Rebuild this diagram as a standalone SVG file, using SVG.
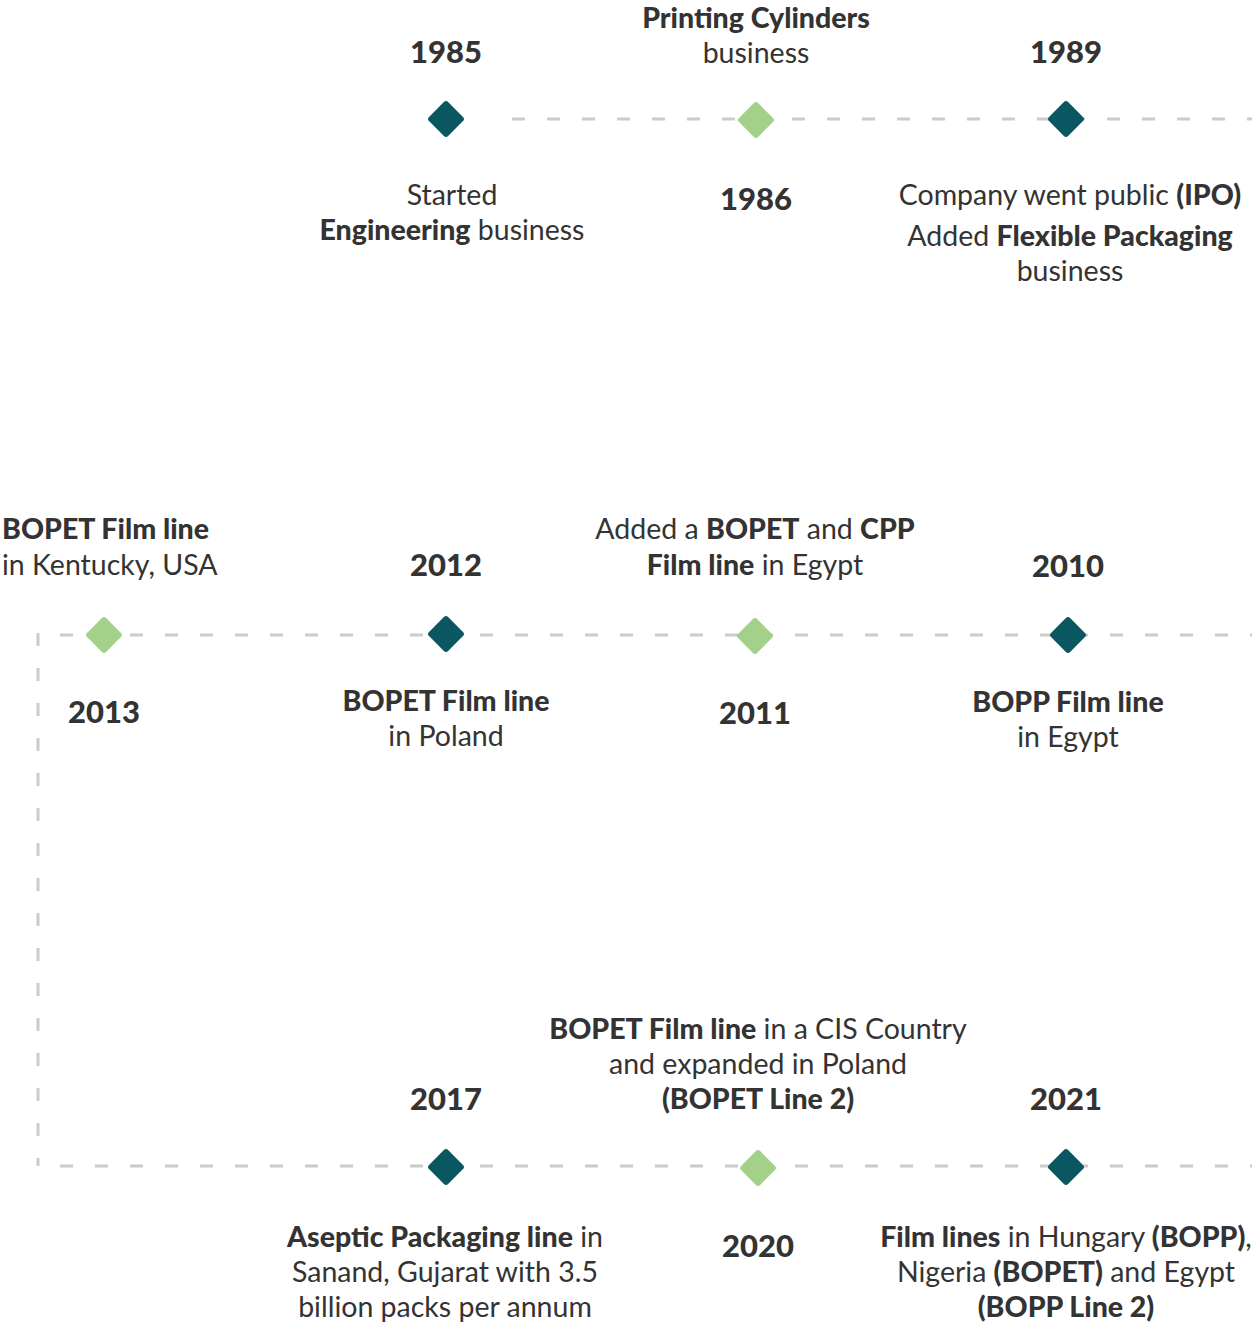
<svg xmlns="http://www.w3.org/2000/svg" width="1252" height="1322" viewBox="0 0 1252 1322">
<style>
text{font-family:Lato,"Noto Sans",sans-serif;fill:#333;font-size:28.5px;text-anchor:middle}
.y{font-weight:900;font-size:31px}
.b{font-weight:900}
.l{text-anchor:start}
.c{fill:none;stroke:#cbcbcb;stroke-width:3;stroke-dasharray:13 22}
.d{fill:#0a5761}
.g{fill:#a3d18a}
</style>
<defs>
<rect id="dm" x="-13.5" y="-13.5" width="27" height="27" rx="3" transform="rotate(45)"/>
</defs>
<rect width="1252" height="1322" fill="#fff"/>
<g id="connectors">
<path class="c" d="M512 119H1252"/>
<path class="c" d="M60 635H1252"/>
<path class="c" d="M38 633V1166"/>
<path class="c" d="M60 1166H1252"/>
</g>
<g id="n1985"><use href="#dm" class="d" x="446" y="119"/><text class="y" x="446" y="63">1985</text><text x="452" y="205">Started</text><text x="452" y="240"><tspan class="b">Engineering</tspan> business</text></g>
<g id="n1986"><use href="#dm" class="g" x="756" y="120"/><text class="b" x="756" y="28">Printing Cylinders</text><text x="756" y="63">business</text><text class="y" x="756" y="210">1986</text></g>
<g id="n1989"><use href="#dm" class="d" x="1066" y="119"/><text class="y" x="1066" y="63">1989</text><text x="1070" y="205">Company went public <tspan class="b">(IPO)</tspan></text><text x="1070" y="246">Added <tspan class="b">Flexible Packaging</tspan></text><text x="1070" y="281">business</text></g>
<g id="n2013"><use href="#dm" class="g" x="104" y="635"/><text class="l b" x="2" y="539">BOPET Film line</text><text class="l" x="2" y="575">in Kentucky, USA</text><text class="y" x="104" y="723">2013</text></g>
<g id="n2012"><use href="#dm" class="d" x="446" y="634"/><text class="y" x="446" y="576">2012</text><text class="b" x="446" y="711">BOPET Film line</text><text x="446" y="746">in Poland</text></g>
<g id="n2011"><use href="#dm" class="g" x="755" y="636"/><text x="755" y="539">Added a <tspan class="b">BOPET</tspan> and <tspan class="b">CPP</tspan></text><text x="755" y="575"><tspan class="b">Film line</tspan> in Egypt</text><text class="y" x="755" y="724">2011</text></g>
<g id="n2010"><use href="#dm" class="d" x="1068" y="635"/><text class="y" x="1068" y="577">2010</text><text class="b" x="1068" y="712">BOPP Film line</text><text x="1068" y="747">in Egypt</text></g>
<g id="n2017"><use href="#dm" class="d" x="446" y="1167"/><text class="y" x="446" y="1110">2017</text><text x="445" y="1247"><tspan class="b">Aseptic Packaging line</tspan> in</text><text x="445" y="1282">Sanand, Gujarat with 3.5</text><text x="445" y="1317">billion packs per annum</text></g>
<g id="n2020"><use href="#dm" class="g" x="758" y="1168"/><text x="758" y="1039"><tspan class="b">BOPET Film line</tspan> in a CIS Country</text><text x="758" y="1074">and expanded in Poland</text><text class="b" x="758" y="1109">(BOPET Line 2)</text><text class="y" x="758" y="1257">2020</text></g>
<g id="n2021"><use href="#dm" class="d" x="1066" y="1167"/><text class="y" x="1066" y="1110">2021</text><text x="1066" y="1247"><tspan class="b">Film lines</tspan> in Hungary <tspan class="b">(BOPP)</tspan>,</text><text x="1066" y="1282">Nigeria <tspan class="b">(BOPET)</tspan> and Egypt</text><text class="b" x="1066" y="1317">(BOPP Line 2)</text></g>
</svg>
